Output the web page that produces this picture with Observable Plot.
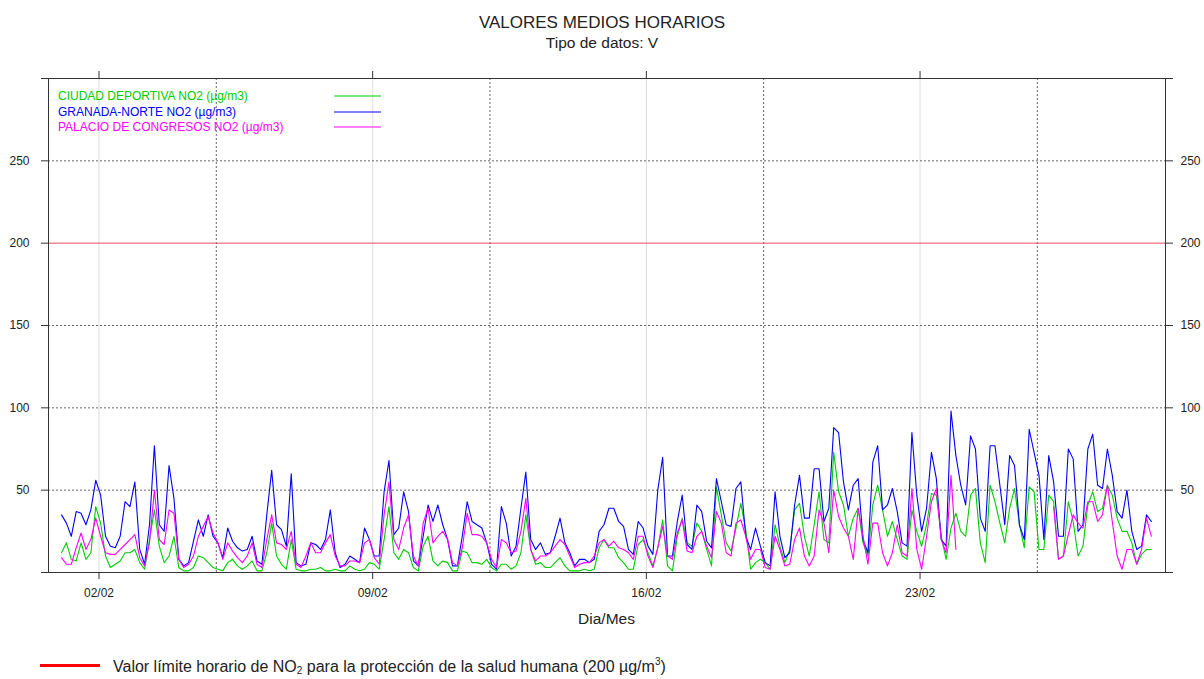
<!DOCTYPE html>
<html>
<head>
<meta charset="utf-8">
<script src="https://cdn.jsdelivr.net/npm/d3@7"></script>
<script src="https://cdn.jsdelivr.net/npm/@observablehq/plot@0.6"></script>
<style>
  body { margin: 0; background: #fff; }
  #wrap { position: relative; width: 1204px; height: 679px; font-family: "Liberation Sans", Arial, sans-serif; color: #222; overflow: hidden; }
  .abs { position: absolute; }
  #title { top: 13px; left: 0; width: 1204px; text-align: center; font-size: 17px; line-height: 20px; }
  #subtitle { top: 34px; left: 0; width: 1204px; text-align: center; font-size: 15.5px; line-height: 17px; }
  #chart { top: 52px; left: 0; }
  #legend { top: 88px; left: 58px; width: 340px; height: 50px; font-size: 12px; }
  #legend .row { position: absolute; left: 0; width: 330px; height: 16px; line-height: 16px; white-space: nowrap; }
  #legend svg { position: absolute; left: 276px; top: 6px; }
  #xlabel { top: 610px; left: 48px; width: 1117px; text-align: center; font-size: 15.5px; line-height: 18px; color: #222; }
  #footer { top: 654px; left: 40px; width: 1100px; height: 24px; font-size: 16px; line-height: 20px; white-space: nowrap; color: #222; }
  #footer .line { position: absolute; left: 0; top: 10px; width: 60px; height: 3px; background: #ff0000; }
  #footer .txt { position: absolute; left: 73px; top: 3px; }
  sub, sup { font-size: 10px; line-height: 0; }
  sub { vertical-align: -2px; }
  sup { vertical-align: 7px; }
</style>
</head>
<body>
<div id="wrap">
  <div id="title" class="abs">VALORES MEDIOS HORARIOS</div>
  <div id="subtitle" class="abs">Tipo de datos: V</div>
  <div id="chart" class="abs"></div>
  <div id="legend" class="abs"></div>
  <div id="xlabel" class="abs">Dia/Mes</div>
  <div id="footer" class="abs"><span class="line"></span><span class="txt">Valor límite horario de NO<sub>2</sub> para la protección de la salud humana (200 µg/m<sup>3</sup>)</span></div>
</div>
<script>
// ---- DATA (hourly means read every 3 hours, starting 01/02 01:00) ----
const startTime = Date.UTC(2024, 1, 1, 1);
const stepHours = 3;

const seriesNames = [
  "CIUDAD DEPORTIVA NO2 (µg/m3)",
  "GRANADA-NORTE NO2 (µg/m3)",
  "PALACIO DE CONGRESOS NO2 (µg/m3)"
];
const seriesColors = ["#00cd00", "#0000ff", "#ff00ff"];

const ciudadDeportiva = [
  12,18,8,7,18,8,12,40,30,10,3,5,7,12,12,14,6,2,20,38,16,6,10,22,3,1,
  1,3,10,9,6,3,2,1,6,8,4,2,4,7,1,1,12,30,10,5,2,20,2,1,1,2,2,3,1,
  1,2,1,1,4,2,1,2,6,5,2,20,40,12,8,14,12,3,1,16,22,7,4,7,6,1,1,13,
  12,6,6,5,8,3,1,5,5,2,4,12,35,14,5,6,3,3,6,9,4,1,1,1,2,1,2,15,20,
  15,15,9,6,2,2,17,20,12,4,15,32,4,1,22,33,18,16,30,25,14,4,52,35,18,13,27,42,26,
  2,6,8,6,2,29,16,6,14,38,42,22,10,29,49,20,18,73,49,41,22,33,39,18,10,41,53,38,
  22,31,20,10,8,38,25,16,29,48,47,22,8,27,36,25,22,47,51,18,6,53,43,30,18,39,51,29,15,
  52,49,14,14,47,43,8,10,43,31,10,16,41,49,37,39,53,47,33,25,25,18,5,11,14,14
];

const granadaNorte = [
  35,30,22,37,36,29,38,56,47,22,16,15,22,43,40,55,14,5,29,77,29,25,65,45,8,4,
  6,19,32,22,35,22,18,9,27,19,15,13,14,22,7,5,35,62,29,26,16,60,6,4,5,18,17,14,20,
  38,12,3,5,10,8,6,27,20,10,10,49,68,23,27,49,37,7,4,22,41,31,41,29,20,4,4,22,
  43,31,29,27,18,5,2,40,30,10,16,39,61,20,14,18,11,12,22,33,18,12,4,8,8,6,8,25,29,
  39,39,31,28,14,11,31,27,16,11,50,70,10,10,31,47,17,14,41,37,19,15,57,43,29,28,51,55,22,
  14,27,16,6,4,49,22,9,12,41,59,33,33,63,63,31,39,88,85,55,38,53,57,20,12,67,77,38,
  41,51,37,18,16,85,47,25,39,73,57,20,16,98,71,53,41,83,75,33,25,77,77,53,29,71,65,29,20,
  87,73,59,20,71,55,22,22,75,69,25,29,75,84,53,51,75,59,37,33,50,25,14,16,35,31
];

const palacioCongresos = [
  9,5,5,15,24,14,20,33,22,12,11,11,14,17,20,23,9,4,18,50,20,17,38,36,8,3,
  5,10,22,28,34,24,18,8,18,13,9,6,10,18,5,3,20,35,18,17,14,25,5,3,10,18,12,12,18,
  23,10,4,4,7,7,6,18,20,9,5,35,55,20,14,27,35,10,4,30,39,18,22,25,20,6,4,15,
  36,23,23,22,18,8,3,20,18,12,13,25,45,14,7,10,10,12,16,20,17,10,3,5,6,6,10,18,20,
  16,19,15,14,12,8,22,22,10,3,15,28,10,8,24,32,13,12,22,25,16,9,37,30,12,10,30,32,22,
  8,14,14,3,2,22,14,4,5,20,27,10,4,10,38,30,12,50,34,27,22,8,39,22,5,30,30,12,
  4,12,29,12,10,51,14,2,22,43,51,20,12,59,14,
  null,null,null,null,null,null,null,null,null,null,null,null,null,null,
  null,null,null,null,null,
  40,8,10,23,35,30,27,43,43,31,35,53,31,10,2,14,14,5,14,33,22
];

const limitValue = [200];
const yGridValues = [50, 100, 150, 250];
const yTickValues = [0, 50, 100, 150, 200, 250, 300];
const xLabelDays = ["2024-02-02", "2024-02-09", "2024-02-16", "2024-02-23"];
const xDottedDays = ["2024-02-05", "2024-02-12", "2024-02-19", "2024-02-26"];
const xDomain = ["2024-01-31T17:00Z", "2024-02-29T06:40Z"];
const yDomain = [0, 300];

// ---- BUILD ----
const toRows = (vals) => vals.map((v, i) => ({date: new Date(startTime + i * stepHours * 3600e3), v}));
const seriesValues = [ciudadDeportiva, granadaNorte, palacioCongresos];
const labelDates = xLabelDays.map(d => new Date(d + "T00:00Z"));
const dottedDates = xDottedDays.map(d => new Date(d + "T00:00Z"));
const fmt = d3.utcFormat("%d/%m");
const yFmt = d => (d === 0 || d === 300) ? "" : String(d);

const chart = Plot.plot({
  width: 1204,
  height: 560,
  marginTop: 26,
  marginBottom: 40,
  marginLeft: 48,
  marginRight: 39,
  style: {fontFamily: "'Liberation Sans', Arial, sans-serif", fontSize: "12px", color: "#222", background: "#fff"},
  x: {type: "utc", domain: xDomain.map(d => new Date(d))},
  y: {domain: yDomain},
  marks: [
    Plot.ruleX(labelDates, {stroke: "#dcdcdc", strokeWidth: 1}),
    Plot.ruleX(dottedDates, {stroke: "#666", strokeDasharray: "2,2", strokeWidth: 1}),
    Plot.ruleY(yGridValues, {stroke: "#666", strokeDasharray: "2,2", strokeWidth: 1}),
    Plot.ruleY(limitValue, {stroke: "#e8505a", strokeWidth: 1}),
    ...seriesValues.map((vals, k) => Plot.lineY(toRows(vals), {x: "date", y: "v", stroke: seriesColors[k], strokeWidth: 1.1, curve: "linear"})),
    Plot.frame({stroke: "#333", strokeWidth: 1}),
    Plot.axisX({anchor: "bottom", ticks: labelDates, tickFormat: fmt, tickSize: 7, tickPadding: 9, label: null, stroke: "#333"}),
    Plot.axisX({anchor: "top", ticks: labelDates, tickFormat: () => "", tickSize: 8, label: null, stroke: "#333"}),
    Plot.axisY({anchor: "left", ticks: yTickValues, tickFormat: yFmt, tickSize: 7, tickPadding: 12, label: null, stroke: "#333"}),
    Plot.axisY({anchor: "right", ticks: yTickValues, tickFormat: yFmt, tickSize: 7, tickPadding: 8, label: null, stroke: "#333"})
  ]
});
document.getElementById("chart").appendChild(chart);

// ---- LEGEND ----
const legend = document.getElementById("legend");
const svgNS = "http://www.w3.org/2000/svg";
seriesNames.forEach((name, k) => {
  const row = document.createElement("div");
  row.className = "row";
  row.style.top = Math.round(k * 15.6) + "px";
  row.style.color = seriesColors[k];
  row.textContent = name;
  const sw = document.createElementNS(svgNS, "svg");
  sw.setAttribute("width", "48");
  sw.setAttribute("height", "4");
  const ln = document.createElementNS(svgNS, "line");
  ln.setAttribute("x1", "0"); ln.setAttribute("x2", "47");
  ln.setAttribute("y1", "2"); ln.setAttribute("y2", "2");
  ln.setAttribute("stroke", seriesColors[k]);
  ln.setAttribute("stroke-width", "1.2");
  sw.appendChild(ln);
  row.appendChild(sw);
  legend.appendChild(row);
});
</script>
</body>
</html>
